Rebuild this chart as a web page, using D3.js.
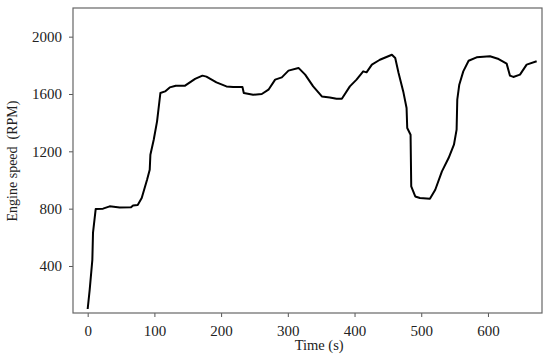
<!DOCTYPE html>
<html>
<head>
<meta charset="utf-8">
<script src="https://cdn.jsdelivr.net/npm/d3@7"></script>
<style>
  body { margin: 0; background: #fff; }
  text { font-family: "Liberation Serif", "Times New Roman", serif; fill: #222; }
</style>
</head>
<body>
<svg id="chart" width="550" height="364"></svg>
<script>
// Engine speed trace
var timeSec = [0, 3, 7, 8, 12, 23, 33, 48, 65, 68, 75, 81, 89, 93, 94, 99, 104, 109, 116, 123, 132, 146, 161, 172, 178, 193, 208, 218, 232, 234, 248, 261, 271, 281, 291, 301, 316, 326, 338, 351, 363, 373, 381, 393, 403, 413, 418, 426, 438, 456, 461, 466, 473, 478, 479, 484, 485, 491, 498, 513, 521, 531, 541, 549, 553, 554, 557, 563, 571, 583, 603, 616, 628, 633, 638, 648, 658, 673];
var rpm = [100, 234, 443, 632, 797, 800, 816, 808, 810, 822, 826, 874, 1002, 1072, 1176, 1281, 1409, 1607, 1618, 1646, 1658, 1658, 1705, 1728, 1721, 1681, 1653, 1649, 1649, 1607, 1595, 1600, 1630, 1700, 1716, 1763, 1782, 1735, 1653, 1583, 1576, 1567, 1567, 1653, 1700, 1758, 1751, 1805, 1839, 1874, 1851, 1747, 1618, 1502, 1363, 1316, 955, 885, 874, 869, 932, 1060, 1153, 1246, 1351, 1560, 1665, 1758, 1832, 1856, 1863, 1844, 1812, 1728, 1719, 1735, 1805, 1828];
var xTicks = [0, 100, 200, 300, 400, 500, 600];
var yTicks = [400, 800, 1200, 1600, 2000];

var svg = d3.select("#chart"),
    margin = {top: 8, right: 8, bottom: 51, left: 73},
    width = 550 - margin.left - margin.right,
    height = 364 - margin.top - margin.bottom;

var g = svg.append("g").attr("transform", "translate(" + margin.left + "," + margin.top + ")");

var x = d3.scaleLinear().domain([-22, 681]).range([0, width]);
var y = d3.scaleLinear().domain([72, 2200]).range([height, 0]);

// x axis
var xAxis = g.append("g")
  .attr("transform", "translate(0," + height + ")")
  .call(d3.axisBottom(x).tickValues(xTicks).tickFormat(d3.format("d")).tickSize(4).tickPadding(8));
// y axis
var yAxis = g.append("g")
  .call(d3.axisLeft(y).tickValues(yTicks).tickFormat(d3.format("d")).tickSize(4).tickPadding(7));

[xAxis, yAxis].forEach(function(a) {
  a.select(".domain").remove();
  a.selectAll("line").attr("stroke", "#555");
  a.selectAll("text").style("font-size", "15px").attr("fill", "#222")
    .style("font-family", "'Liberation Serif', serif");
});

// frame
g.append("rect")
  .attr("width", width).attr("height", height)
  .attr("fill", "none").attr("stroke", "#666").attr("stroke-width", 1.2);

// line
var line = d3.line()
  .x(function(d, i) { return x(timeSec[i]); })
  .y(function(d) { return y(d); });

g.append("path")
  .datum(rpm)
  .attr("d", line)
  .attr("fill", "none")
  .attr("stroke", "#000")
  .attr("stroke-width", 2)
  .attr("stroke-linejoin", "round");

// axis titles
svg.append("text")
  .attr("x", margin.left + x(347))
  .attr("y", 350)
  .attr("text-anchor", "middle")
  .style("font-size", "14.5px")
  .text("Time (s)");

svg.append("text")
  .attr("transform", "translate(17," + 161 + ") rotate(-90)")
  .attr("text-anchor", "middle")
  .style("font-size", "14px")
  .style("white-space", "pre")
  .attr("xml:space", "preserve")
  .text("Engine speed  (RPM)");
</script>
</body>
</html>
